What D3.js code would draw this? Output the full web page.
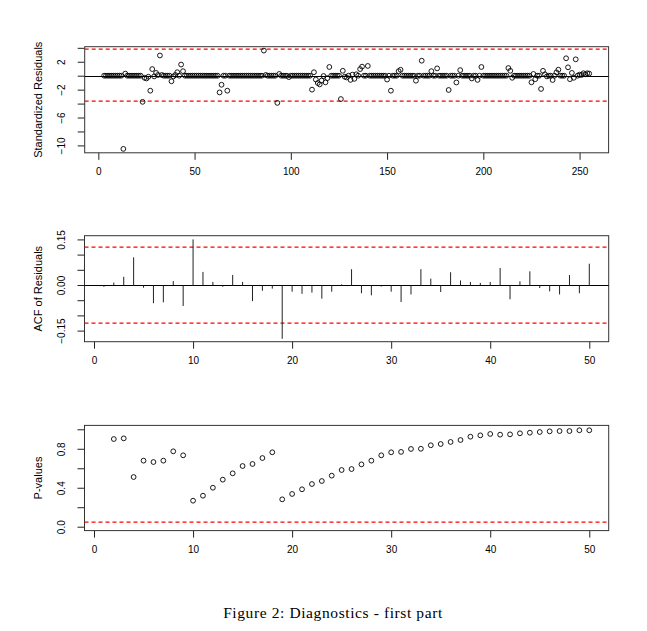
<!DOCTYPE html>
<html><head><meta charset="utf-8">
<script src="https://cdn.jsdelivr.net/npm/d3@7/dist/d3.min.js"></script>
<style>body{margin:0;background:#fff}svg{display:block}</style>
</head><body>
<svg id="c" width="647" height="631"></svg>
<script>
// ---------- data ----------
const residStart = 3; // first time index of residuals
const residuals = [
  0,0,0,0,0,0,0,0,0,0,
  -10.5,0.3,0,0,0,0,0,0,0,0,
  -3.75,-0.3,-0.4,-0.15,-2.15,0.95,-0.1,0.4,0.1,2.9,
  0.1,0,0,0,0,-0.8,-0.1,0.1,0.5,0,
  1.6,0.65,0,0,0,0,0,0,0,0,
  0,0,0,0,0,0,0,0,0,0,
  -2.4,-1.3,0,0,-2.15,0,0,0,0,0,
  0,0,0,0,0,0,0,0,0,0,
  0,0,0,3.6,0.1,0,0,0,0,0,
  -3.9,0.25,0,0,0,0,-0.2,0,0,0,
  0,0,0,0,0,0,0,0,-2.0,0.5,
  -0.55,-1.05,-1.25,-0.7,-0.05,-0.95,-0.35,1.25,0,0,
  0,0,0,-3.35,0.7,-0.15,-0.25,0,-0.6,0.15,
  -0.45,0.2,0,0.95,1.3,0,0,1.4,0,0,
  0,0,0,0,0,0,0,-0.55,0,-2.15,
  0,0,0,0.65,0.85,0,0,0,0,0,
  0,0,-0.72,0,0,2.15,0,0,0,0,
  0.65,0,0,1.05,0,0,0,0,0,-2.05,
  0,0,0,-0.97,0,0.8,0,0,0,0,
  0,-0.4,0,0,-0.6,0,1.25,0,0,0,
  0,0,0,0,0,0,0,0,0,0,
  1.1,0.7,-0.3,0,0,0,0,0,0,0,
  0,0,-0.95,0.25,-0.5,0,0,-1.9,0.7,0.2,
  -0.1,0,0,-0.62,0,0.48,0.86,0,0,0,
  2.5,1.2,-0.5,0.4,-0.3,2.35,0,0.15,0.1,0.35,
  0.2,0.35,0.3
];
const residBand = [-3.7, 3.8];

const acfValues = [
  -0.006,0.008,0.027,0.091,-0.009,-0.060,-0.057,0.013,-0.069,0.150,
  0.043,0.010,-0.006,0.033,0.010,-0.053,-0.019,-0.012,-0.177,-0.022,
  -0.029,-0.025,-0.045,-0.022,0.002,0.052,-0.027,-0.034,-0.005,-0.022,
  -0.056,-0.031,0.052,0.021,-0.023,0.042,0.015,0.010,0.007,0.010,
  0.056,-0.047,0.012,0.045,-0.010,-0.021,-0.031,0.033,-0.027,0.070
];
const acfBound = 0.124;

const pFirstLag = 2;
const pValues = [
  0.900,0.907,0.510,0.678,0.664,0.678,0.774,0.733,
  0.267,0.318,0.400,0.483,0.548,0.623,0.644,0.705,0.764,
  0.281,0.336,0.384,0.438,0.469,0.524,0.582,0.592,0.640,0.678,0.733,
  0.764,0.768,0.798,0.800,0.836,0.849,0.870,0.890,0.924,0.938,0.952,
  0.945,0.948,0.959,0.965,0.972,0.979,0.982,0.982,0.990,0.990
];
const pThreshold = 0.05;

const residXTicks = [0,50,100,150,200,250];
const residYTicks = [-10,-8,-6,-4,-2,0,2,4];
const residYLabels = [-10,-6,-2,2];
const lagXTicks = [0,10,20,30,40,50];
const acfYTicks = [-0.15,-0.10,-0.05,0,0.05,0.10,0.15];
const acfYLabels = [-0.15,0,0.15];
const pYTicks = [0,0.2,0.4,0.6,0.8,1.0];
const pYLabels = [0,0.4,0.8];

const titles = ["Standardized Residuals","ACF of Residuals","P-values"];
const caption = "Figure 2: Diagnostics - first part";

// ---------- drawing ----------
const svg = d3.select("#c");
const FONT = "'Liberation Sans', Arial, Helvetica, sans-serif";
const RED = "#ff0000";
const minus = s => s.replace("-", "\u2212");
const crisp = v => Math.round(v) + 0.5;

function panel(opts){
  const {xs, ys, xTicks, yTicks, yLabels, yFmt, title} = opts;
  const g = svg.append("g");
  const [x0,x1] = xs.range(), [y0,y1] = ys.range(); // y0 bottom, y1 top
  // x axis
  const ax = g.append("g").attr("transform",`translate(0,${y0})`)
    .call(d3.axisBottom(xs).tickValues(xTicks).tickSize(7).tickSizeOuter(0).tickFormat(d3.format("d")));
  ax.select(".domain").remove();
  ax.selectAll("line").attr("stroke","#222");
  ax.selectAll("text").attr("font-family",FONT).attr("font-size","10px").attr("fill","#000")
    .attr("y",15).attr("dy","0.71em");
  // y axis
  const ay = g.append("g").attr("transform",`translate(${x0},0)`)
    .call(d3.axisLeft(ys).tickValues(yTicks).tickSize(7).tickSizeOuter(0)
      .tickFormat(d => yLabels.some(v => Math.abs(v-d)<1e-9) ? minus(yFmt(d)) : ""));
  ay.select(".domain").remove();
  ay.selectAll("line").attr("stroke","#222");
  ay.selectAll("text").attr("font-family",FONT).attr("font-size","10px").attr("fill","#000")
    .attr("transform","rotate(-90)").attr("x",0).attr("y",-20).attr("dy",0)
    .attr("text-anchor","middle");
  // box
  g.append("rect").attr("x",x0).attr("y",y1).attr("width",x1-x0).attr("height",y0-y1)
    .attr("fill","none").attr("stroke","#333").attr("stroke-width",1);
  // title
  g.append("text").attr("transform",`translate(41.5,${(y0+y1)/2}) rotate(-90)`)
    .attr("text-anchor","middle").attr("font-family",FONT).attr("font-size","11px")
    .attr("fill","#000").text(title);
  return g;
}
function hline(g, xs, y, color, width, dash){
  const [x0,x1] = xs.range();
  g.append("line").attr("x1",x0).attr("x2",x1).attr("y1",y).attr("y2",y)
    .attr("stroke",color).attr("stroke-width",width).attr("stroke-dasharray",dash||null);
}

// Panel 1: standardized residuals
{
  const xs = d3.scaleLinear().domain([-7.08,265.08]).range([84.7,608.6]);
  const ys = d3.scaleLinear().domain([-11.06,4.16]).range([152.8,46.7]);
  const g = panel({xs, ys, xTicks:residXTicks, yTicks:residYTicks, yLabels:residYLabels,
                   yFmt:d3.format("d"), title:titles[0]});
  for (const v of residBand) hline(g, xs, Math.round(ys(v)), RED, 1.25, "4,3");
  hline(g, xs, crisp(ys(0)), "#000", 1);
  g.append("g").selectAll("circle").data(residuals).join("circle")
    .attr("cx",(d,i)=>xs(residStart+i)).attr("cy",d=>ys(d)).attr("r",2.4)
    .attr("fill","none").attr("stroke","#000").attr("stroke-width",0.9);
}

// Panel 2: ACF
{
  const xs = d3.scaleLinear().domain([-0.96,51.96]).range([84.5,608.7]);
  const ys = d3.scaleLinear().domain([-0.1865,0.1622]).range([341.7,235.7]);
  const g = panel({xs, ys, xTicks:lagXTicks, yTicks:acfYTicks, yLabels:acfYLabels,
                   yFmt:d3.format(".2f"), title:titles[1]});
  for (const v of [acfBound, -acfBound]) hline(g, xs, Math.round(ys(v)), RED, 1.25, "4,3");
  hline(g, xs, crisp(ys(0)), "#000", 1);
  g.append("g").selectAll("line").data(acfValues).join("line")
    .attr("x1",(d,i)=>xs(i+1)).attr("x2",(d,i)=>xs(i+1))
    .attr("y1",crisp(ys(0))).attr("y2",d=>ys(d))
    .attr("stroke","#222").attr("stroke-width",1);
}

// Panel 3: p-values
{
  const xs = d3.scaleLinear().domain([-0.96,51.96]).range([84.5,608.7]);
  const ys = d3.scaleLinear().domain([-0.04,1.04]).range([530.6,425.4]);
  const g = panel({xs, ys, xTicks:lagXTicks, yTicks:pYTicks, yLabels:pYLabels,
                   yFmt:d3.format(".1f"), title:titles[2]});
  hline(g, xs, Math.round(ys(pThreshold)), RED, 1.25, "4,3");
  g.append("g").selectAll("circle").data(pValues).join("circle")
    .attr("cx",(d,i)=>xs(pFirstLag+i)).attr("cy",d=>ys(d)).attr("r",2.4)
    .attr("fill","none").attr("stroke","#000").attr("stroke-width",0.9);
}

// caption
svg.append("text").attr("x",333).attr("y",618).attr("text-anchor","middle")
  .attr("font-family","'Liberation Serif','Times New Roman',serif").attr("font-size","15.5px")
  .attr("letter-spacing","0.6px").attr("fill","#000").text(caption);
</script>
</body></html>
